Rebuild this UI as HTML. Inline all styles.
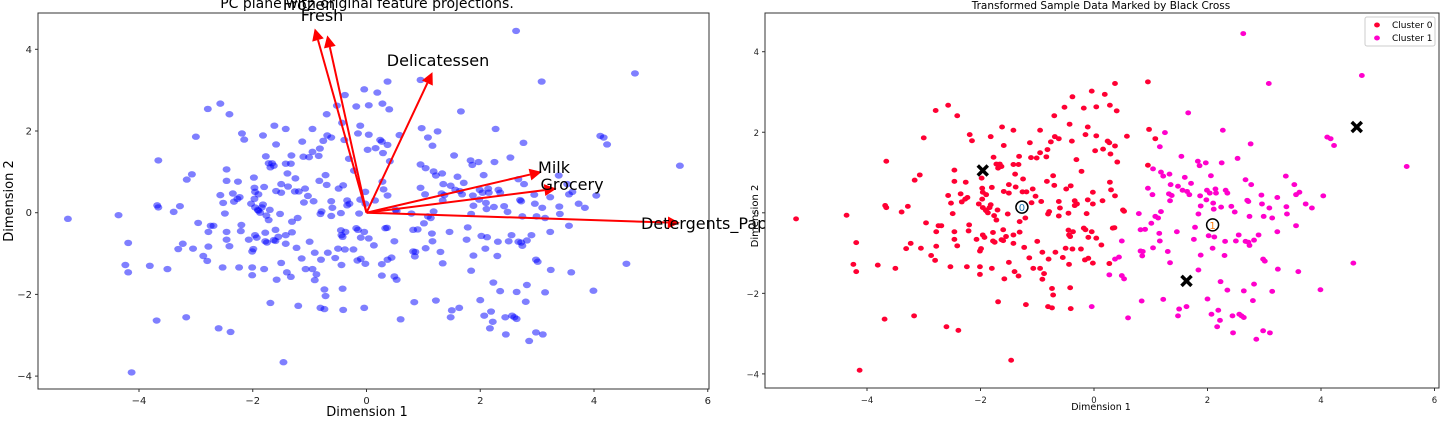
<!DOCTYPE html>
<html><head><meta charset="utf-8"><style>
html,body{margin:0;padding:0;background:#fff;width:1450px;height:445px;overflow:hidden}
svg{position:absolute;left:0;top:0;font-family:"DejaVu Sans","Liberation Sans",sans-serif}
</style></head><body>
<svg id="chart" width="1450" height="445"></svg>
<script>
const c0x=[-5.25,-4.36,-4.19,-4.24,-4.19,-4.13,-3.81,-3.50,-3.69,-3.66,-3.68,-3.66,-3.39,-3.28,-3.17,-3.23,-3.31,-3.05,-3.16,-3.07,-3.0,-2.96,-2.87,-2.80,-2.78,-2.74,-2.69,-2.78,-2.79,-2.57,-2.41,-2.60,-2.39,-2.53,-2.46,-2.46,-2.41,-2.57,-2.52,-2.49,-2.46,-2.46,-2.35,-2.33,-2.27,-2.23,-2.26,-2.24,-2.2,-2.21,-2.19,-2.15,-2.07,-2.01,-1.99,-2.01,-2.01,-1.96,-1.93,-2.03,-1.97,-1.97,-1.98,-1.96,-1.91,-1.87,-1.9,-1.84,-1.82,-1.96,-1.9,-1.8,-1.77,-1.72,-1.69,-1.66,-1.63,-1.82,-1.80,-1.78,-1.78,-1.75,-1.76,-1.72,-1.70,-1.69,-1.63,-1.60,-1.60,-1.62,-1.58,-1.59,-1.59,-1.55,-1.50,-1.50,-1.52,-1.50,-1.46,-1.42,-1.42,-1.39,-1.42,-1.42,-1.40,-1.38,-1.33,-1.33,-1.32,-1.31,-1.31,-1.26,-1.25,-1.23,-1.21,-1.20,-1.19,-1.14,-1.13,-1.11,-1.10,-1.07,-1.08,-1.03,-1.01,-1.0,-0.95,-0.95,-0.93,-0.95,-0.91,-0.91,-0.88,-0.84,-0.83,-0.82,-0.81,-0.80,-0.79,-0.81,-0.76,-0.74,-0.74,-0.72,-0.72,-0.70,-0.69,-0.68,-0.70,-0.62,-0.62,-0.60,-0.62,-0.55,-0.52,-0.50,-0.49,-0.44,-0.43,-0.41,-0.42,-0.41,-0.45,-0.45,-0.44,-0.42,-0.39,-0.38,-0.38,-0.37,-0.34,-0.34,-0.31,-0.30,-0.23,-0.22,-0.18,-0.18,-0.15,-0.16,-0.15,-0.13,-0.11,-0.11,-0.10,-0.10,-0.04,-0.04,-0.02,-0.02,-0.02,0.02,0.04,0.04,0.04,0.13,0.15,0.16,0.19,0.24,0.27,0.28,0.29,0.28,0.30,0.27,0.33,0.36,0.37,0.37,0.37,0.40,0.41,0.51,0.53,0.58,0.95,0.95,0.97,1.08];
const c0y=[-0.15,-0.06,-0.74,-1.28,-1.46,-3.91,-1.30,-1.38,-2.64,1.28,0.18,0.13,0.02,0.16,-2.56,-0.76,-0.89,-0.88,0.81,0.94,1.86,-0.25,-1.06,-1.18,-0.47,-0.32,-0.32,-0.83,2.54,2.67,2.41,-2.83,-2.92,-1.34,-0.47,-0.66,-0.82,0.43,0.24,-0.02,1.06,0.78,0.47,0.27,0.34,0.38,0.76,-1.34,-0.30,-0.45,1.94,1.79,-0.66,-0.95,-0.89,-1.34,-1.53,-0.55,-0.61,0.22,0.34,0.61,0.86,0.13,0.07,0.0,0.05,0.13,0.20,0.51,0.45,0.63,1.38,1.21,1.11,1.21,1.15,1.89,-1.38,-0.49,-0.70,-0.73,-0.07,-0.18,0.07,-2.21,-0.67,-0.42,-0.69,2.13,-1.64,1.67,0.53,-0.59,0.70,0.49,-0.03,-1.23,-3.66,2.05,1.20,0.96,-0.55,-0.76,-1.46,0.64,-1.57,1.20,1.40,-0.22,-0.48,0.52,0.84,-0.86,-0.13,-2.28,0.52,-1.12,1.74,1.37,0.25,-1.38,0.59,0.41,1.36,-0.71,-1.38,2.05,0.28,1.49,-0.98,-1.65,-1.51,1.39,0.78,1.57,-0.03,-1.15,0.03,-2.33,1.76,-2.36,-1.88,-2.04,0.92,0.68,1.89,-0.98,2.41,1.84,0.28,0.12,-0.08,-1.11,2.62,-0.88,0.59,-0.55,2.20,0.67,-1.86,-2.38,-0.01,-0.43,-1.28,-0.59,1.78,2.88,-0.90,-0.47,0.30,0.18,1.32,0.22,-0.90,1.03,2.60,-0.38,1.94,-1.17,-0.42,-0.02,2.13,0.32,-1.13,-0.61,3.02,-0.47,-1.25,0.22,0.51,1.54,1.91,2.63,-0.63,-0.80,0.30,1.58,2.94,1.78,1.74,2.67,1.46,0.76,0.57,-1.26,-0.38,-0.37,1.66,3.21,0.42,2.53,1.26,0.07,0.04,1.90,3.25,1.18,2.07,1.84];
const c1x=[-0.04,0.27,0.37,0.44,0.49,0.49,0.53,0.60,0.79,0.82,0.90,0.82,0.86,0.85,0.84,0.95,1.01,1.03,1.04,1.04,1.08,1.13,1.15,1.16,1.16,1.18,1.18,1.22,1.22,1.25,1.30,1.32,1.33,1.34,1.35,1.37,1.34,1.46,1.48,1.48,1.50,1.54,1.56,1.60,1.63,1.64,1.68,1.66,1.71,1.76,1.78,1.83,1.84,1.84,1.86,1.87,1.88,1.88,1.97,1.98,1.99,2.0,2.02,2.04,2.06,2.09,2.07,2.10,2.11,2.12,2.14,2.15,2.17,2.19,2.22,2.23,2.24,2.25,2.27,2.30,2.31,2.32,2.35,2.35,2.42,2.44,2.45,2.48,2.50,2.53,2.55,2.56,2.60,2.64,2.63,2.67,2.72,2.74,2.64,2.67,2.70,2.72,2.74,2.76,2.77,2.80,2.82,2.82,2.86,2.90,2.95,2.96,2.98,3.01,2.99,2.98,3.08,3.09,3.10,3.14,3.14,3.23,3.23,3.24,3.38,3.39,3.40,3.53,3.56,3.56,3.60,3.62,3.73,3.84,3.99,4.04,4.11,4.17,4.23,4.57,4.72,5.51];
const c1y=[-2.33,-1.54,-1.15,-1.10,-0.70,-1.56,-1.64,-2.61,-0.02,-0.42,-0.41,-0.95,-0.96,-1.07,-2.19,0.61,-0.26,0.45,-0.87,1.09,-0.09,-0.13,-0.51,-0.70,1.64,0.03,1.01,0.91,-2.15,1.99,-0.96,0.47,0.96,0.30,0.70,0.43,-1.24,-0.47,0.66,-2.56,-2.39,1.40,0.56,0.88,-2.33,0.53,0.45,2.48,0.73,-0.66,-0.36,1.28,-0.03,-1.42,1.17,0.42,0.17,-1.05,1.24,0.32,0.56,-2.14,-0.57,0.49,0.92,-0.88,-2.52,0.24,0.09,-0.60,0.59,0.49,-2.83,-2.42,-2.67,-1.71,0.14,1.24,2.05,-1.06,-0.71,0.56,0.49,-1.92,0.16,-2.56,-2.98,0.02,-0.70,1.35,-0.55,-2.52,-2.56,-2.60,4.45,-0.71,-0.73,-0.81,-1.94,0.82,0.31,0.28,-0.09,1.71,0.70,-2.18,-0.68,-1.77,-3.14,-0.55,0.44,0.22,-1.15,-1.20,-0.09,-2.93,3.21,0.12,-2.98,-0.13,-1.95,0.38,-0.47,-1.40,0.91,0.15,-0.03,0.70,0.45,-0.32,-1.46,0.51,0.22,0.12,-1.91,0.42,1.88,1.84,1.67,-1.25,3.41,1.15];
const centerX=[-1.27,2.09], centerY=[0.14,-0.30], centerLabels=["0","1"];
const sampleX=[-1.96,1.63,4.63], sampleY=[1.05,-1.69,2.13];
const featNames=["Frozen","Fresh","Delicatessen","Milk","Grocery","Detergents_Paper"];
const featX=[-0.91,-0.69,1.16,3.08,3.34,5.51], featY=[4.51,4.34,3.44,1.0,0.59,-0.25];
const ticksX=[-4,-2,0,2,4,6], ticksY=[-4,-2,0,2,4];

const NS="http://www.w3.org/2000/svg", svg=document.getElementById('chart');
function mk(t,a,p){const e=document.createElementNS(NS,t);for(const k in a)e.setAttribute(k,a[k]);(p||svg).appendChild(e);return e;}
function axesFn(x0,x1,y0,y1,xa,xb,ya,yb){return {x:v=>xa+(v-x0)*(xb-xa)/(x1-x0), y:v=>ya+(v-y0)*(yb-ya)/(y1-y0)};}
// left: x 0->366.5, 4->594 ; y 0->212.7, 4->49.3
const L=axesFn(0,4,0,4,366.5,594,212.7,49.3);
const R=axesFn(0,4,0,4,1094,1321,212.8,51.7);

function drawAxes(box,A,fs,name){
  let g=mk('g',{});
  
  mk('rect',{x:box[0],y:box[1],width:box[2]-box[0],height:box[3]-box[1],fill:'#fff',stroke:'#333','stroke-width':1},g);
  ticksX.forEach(t=>{const x=A.x(t);mk('line',{x1:x,x2:x,y1:box[3],y2:box[3]+3,stroke:'#333'},g);
    const e=mk('text',{x:x,y:box[3]+15,'font-size':fs,'text-anchor':'middle',fill:'#222'},g);e.textContent=t<0?'\u2212'+(-t):t;
    });
  ticksY.forEach(t=>{const y=A.y(t);mk('line',{x1:box[0]-3,x2:box[0],y1:y,y2:y,stroke:'#333'},g);
    const e=mk('text',{x:box[0]-6,y:y+3.5,'font-size':fs,'text-anchor':'end',fill:'#222'},g);e.textContent=t<0?'\u2212'+(-t):t;
    });
  return g;
}
// LEFT
drawAxes([38,13,709,389],L,10,'left');
const allX=c0x.concat(c1x), allY=c0y.concat(c1y);
allX.forEach((v,i)=>{const e=mk('ellipse',{cx:L.x(v),cy:L.y(allY[i]),rx:4,ry:3.2,fill:'#0000ff','fill-opacity':0.5});
  });
featX.forEach((v,i)=>{const x2=L.x(v),y2=L.y(featY[i]),x1=L.x(0),y1=L.y(0);
  const dx=x2-x1,dy=y2-y1,len=Math.hypot(dx,dy),ux=dx/len,uy=dy/len,h=12,w=6;
  const bx=x2-ux*h,by=y2-uy*h;
  const ln=mk('line',{x1:x1,y1:y1,x2:bx,y2:by,stroke:'#ff0000','stroke-width':2});
  
  mk('polygon',{points:`${x2},${y2} ${bx-uy*w},${by+ux*w} ${bx+uy*w},${by-ux*w}`,fill:'#ff0000'});
});
const lblPos=[[309,10],[322,21],[438,66],[554,173],[572,190],[641,229]];
featNames.forEach((n,i)=>{const e=mk('text',{x:lblPos[i][0],y:lblPos[i][1],'font-size':16,'text-anchor':i==5?'start':'middle',fill:'#000'});e.textContent=n;
  });
let t=mk('text',{x:367,y:8,'font-size':14,'text-anchor':'middle'});t.textContent='PC plane with original feature projections.';

t=mk('text',{x:367,y:416,'font-size':13,'text-anchor':'middle'});t.textContent='Dimension 1';

t=mk('text',{x:13,y:201,'font-size':13,'text-anchor':'middle',transform:'rotate(-90 13 201)'});t.textContent='Dimension 2';


// RIGHT
t=mk('text',{x:758,y:216,'font-size':10,'text-anchor':'middle',transform:'rotate(-90 758 216)'});t.textContent='Dimension 2';

drawAxes([765,13,1439,388],R,8.5,'right');
c0x.forEach((v,i)=>{const e=mk('ellipse',{cx:R.x(v),cy:R.y(c0y[i]),rx:2.9,ry:2.5,fill:'#ff0033'});
  });
c1x.forEach((v,i)=>{const e=mk('ellipse',{cx:R.x(v),cy:R.y(c1y[i]),rx:2.9,ry:2.5,fill:'#ff00cc'});
  });
const cc=['#1f77b4','#ff7f0e'];
centerX.forEach((v,i)=>{const cx=R.x(v),cy=R.y(centerY[i]);
  const e=mk('ellipse',{cx:cx,cy:cy,rx:6,ry:6,fill:'#fff',stroke:'#000','stroke-width':1.5});
  
  const tx=mk('text',{x:cx,y:cy+4,'font-size':10,'text-anchor':'middle',fill:cc[i]});tx.textContent=centerLabels[i];});
sampleX.forEach((v,i)=>{const x=R.x(v),y=R.y(sampleY[i]),s=5;
  const g=mk('g',{});
  mk('line',{x1:x-s,y1:y-s,x2:x+s,y2:y+s,stroke:'#000','stroke-width':3.5},g);
  mk('line',{x1:x-s,y1:y+s,x2:x+s,y2:y-s,stroke:'#000','stroke-width':3.5},g);});
t=mk('text',{x:1101,y:9,'font-size':10.5,'text-anchor':'middle'});t.textContent='Transformed Sample Data Marked by Black Cross';

t=mk('text',{x:1101,y:410,'font-size':9.5,'text-anchor':'middle'});t.textContent='Dimension 1';

const lg=mk('g',{});
mk('rect',{x:1365,y:17,width:70,height:29,fill:'#fff',stroke:'#ccc',rx:2},lg);
[['Cluster 0','#ff0033',25],['Cluster 1','#ff00cc',38]].forEach(([n,c,y])=>{
  const m=mk('ellipse',{cx:1377,cy:y,rx:2.9,ry:2.5,fill:c},lg);
  const e=mk('text',{x:1392,y:y+3,'font-size':9},lg);e.textContent=n;
  });
</script>
</body></html>
